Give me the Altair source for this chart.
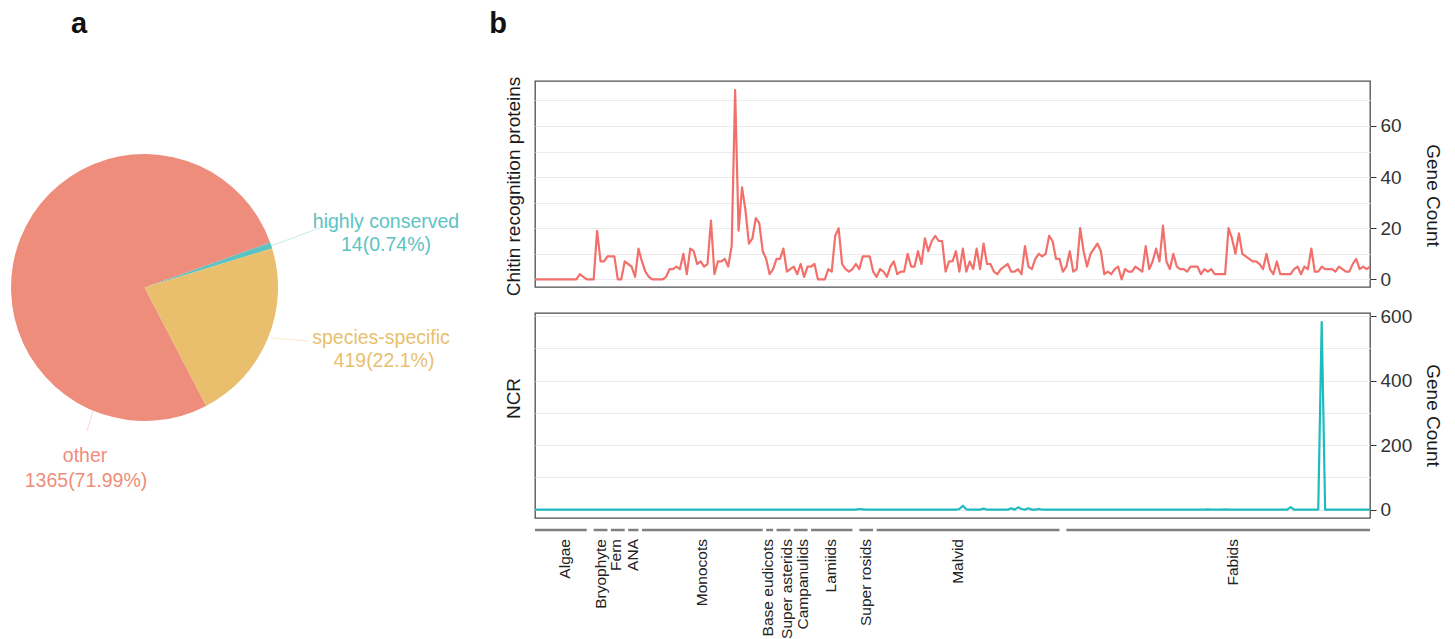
import math
import altair as alt
import pandas as pd

FONT = "Liberation Sans"

# ---------------- panel a : pie ----------------
PIE_NAMES = ["highly conserved", "species-specific", "other"]
PIE_COUNTS = [14, 419, 1365]
PIE_PCT_TEXT = ["0.74%", "22.1%", "71.99%"]
PIE_SHARE = [0.74, 22.1, 77.16]          # visible slice shares (%)
PIE_COLORS = ["#5CC3C3", "#E9BF6E", "#EE8D7C"]

# ---------------- panel b : gene counts per species ----------------
CHITIN = [0, 0, 0, 0, 0, 0, 0, 0, 0, 0, 0, 0, 0,
          2, 1, 0, 0, 0, 19, 7, 7, 9, 9,
          9, 0, 0, 7, 6, 5, 1, 12, 7, 3,
          1, 0, 0, 0, 0, 1, 4, 4, 5, 4,
          10, 2, 12, 11, 6, 7, 5, 6, 23, 2,
          7, 7, 8, 5, 13, 74, 19, 36, 27, 14,
          16, 24, 22, 11, 8, 2, 4, 8, 8, 12,
          3, 4, 5, 2, 6, 1, 5, 5, 6, 0,
          0, 0, 4, 3, 17, 20, 6, 4, 3, 4,
          6, 4, 9, 9, 9, 3, 1, 4, 3, 1,
          5, 7, 2, 3, 3, 10, 5, 5, 11, 6,
          16, 11, 15, 17, 15, 15, 3, 7, 7, 11,
          3, 12, 3, 7, 4, 12, 4, 14, 6, 6,
          3, 2, 4, 5, 6, 3, 3, 4, 2, 13,
          5, 4, 8, 10, 9, 10, 17, 15, 8, 8,
          3, 5, 11, 3, 4, 20, 11, 5, 10, 12,
          14, 11, 2, 3, 2, 4, 5, 0, 4, 3,
          3, 5, 4, 3, 13, 4, 7, 12, 7, 21,
          7, 4, 10, 5, 4, 4, 3, 5, 5, 5,
          2, 4, 3, 4, 2, 2, 2, 2, 20, 16,
          10, 18, 10, 9, 8, 7, 7, 6, 4, 10,
          4, 2, 7, 2, 2, 2, 2, 4, 5, 2,
          5, 4, 12, 3, 3, 5, 4, 4, 4, 3,
          5, 4, 3, 3, 6, 8, 4, 5, 4, 5]
N = len(CHITIN)

# NCR: zero everywhere except these species (index: count)
NCR_NONZERO = {95: 2, 96: 1, 124: 2, 125: 12, 126: 1, 131: 3, 139: 4, 141: 7,
               142: 2, 144: 4, 147: 2, 196: 1, 201: 1, 220: 8, 229: 582}
NCR = [NCR_NONZERO.get(i, 0) for i in range(1, N + 1)]

GROUPS = ["Algae", "Bryophyte", "Fern", "ANA", "Monocots", "Base eudicots",
          "Super asterids", "Campanulids", "Lamiids", "Super rosids", "Malvid", "Fabids"]
GROUP_START = [1, 18, 23, 28, 32, 68, 71, 76, 81, 95, 100, 155]
GROUP_END = [16, 22, 27, 31, 67, 70, 75, 80, 93, 99, 153, 243]
GROUP_LABEL_AT = [9.8, 20.1, 24.6, 29.4, 49.4, 68.5, 73.9, 78.7, 86.8, 96.9, 123.6, 203.3]

# ---------------- styling / layout constants ----------------
RED = "#F2706B"
TEAL = "#1FBBBE"
GRID = "#EBEBEB"
FRAME = "#4D4D4D"
PW = 835            # panel width
TOP_H, BOT_H = 206, 205
PIE_W, PIE_H = 271, 557

LABEL_POS = [[(377, 213), (377, 236)],
             [(372, 329), (375, 352)],
             [(76, 447), (77, 472)]]
LEADERS = [((262, 237), (324, 214)),
           ((262, 329), (300, 332)),
           ((86, 395), (78, 422))]

# ---------------- panel a ----------------
pie_df = pd.DataFrame({"name": PIE_NAMES, "share": PIE_SHARE, "k": list(range(len(PIE_NAMES)))})
a0 = math.radians(70.3)
arcs = alt.Chart(pie_df).mark_arc(outerRadius=133.5).encode(
    theta=alt.Theta("share:Q", stack=True, scale=alt.Scale(range=[a0, a0 + 2 * math.pi])),
    color=alt.Color("name:N", scale=alt.Scale(domain=PIE_NAMES, range=PIE_COLORS), legend=None),
    order=alt.Order("k:Q"),
)

lab_rows = []
for i, name in enumerate(PIE_NAMES):
    lines = [name, f"{PIE_COUNTS[i]}({PIE_PCT_TEXT[i]})"]
    for j, t in enumerate(lines):
        lab_rows.append({"t": t, "px": LABEL_POS[i][j][0], "py": LABEL_POS[i][j][1], "c": PIE_COLORS[i]})
lab_df = pd.DataFrame(lab_rows)
pie_labels = alt.Chart(lab_df).mark_text(font=FONT, fontSize=19.5, align="center", baseline="middle").encode(
    x=alt.X("px:Q", scale=None, axis=None),
    y=alt.Y("py:Q", scale=None, axis=None),
    text="t:N",
    color=alt.Color("c:N", scale=None),
)

lead_df = pd.DataFrame({
    "x1": [p[0][0] for p in LEADERS], "y1": [p[0][1] for p in LEADERS],
    "x2": [p[1][0] for p in LEADERS], "y2": [p[1][1] for p in LEADERS],
    "c": PIE_COLORS,
})
leaders = alt.Chart(lead_df).mark_rule(strokeWidth=1, opacity=0.35).encode(
    x=alt.X("x1:Q", scale=None, axis=None), y=alt.Y("y1:Q", scale=None, axis=None),
    x2="x2:Q", y2="y2:Q",
    color=alt.Color("c:N", scale=None),
)

letter_a = alt.Chart(pd.DataFrame({"t": ["a"]})).mark_text(
    font=FONT, fontSize=29, fontWeight="bold", align="center", baseline="alphabetic", color="#111111"
).encode(text="t:N", x=alt.value(70), y=alt.value(24))

pie_panel = alt.layer(arcs, leaders, pie_labels, letter_a).properties(
    width=PIE_W, height=PIE_H, view=alt.ViewBackground(stroke="transparent")
)

# ---------------- panel b ----------------
letter_b = alt.Chart(pd.DataFrame({"t": ["b"]})).mark_text(
    font=FONT, fontSize=29, fontWeight="bold", align="center", baseline="alphabetic", color="#111111"
).encode(text="t:N", x=alt.value(-37), y=alt.value(24)).properties(
    width=PW, height=46, view=alt.ViewBackground(stroke="transparent")
)

xs = alt.Scale(domain=[1, N], nice=False, zero=False)


def right_axis(values, title_y):
    return alt.Axis(orient="right", values=values, grid=False, domain=False, ticks=True,
                    tickSize=6, tickColor="#333333", tickWidth=1,
                    labelFont=FONT, labelFontSize=19, labelColor="#333333", labelPadding=4,
                    title="Gene Count", titleFont=FONT, titleFontSize=19, titleFontWeight="normal",
                    titleColor="#1a1a1a", titleAngle=90, titleAlign="center", titleBaseline="middle",
                    titleX=62, titleY=title_y)


def left_axis(values, title, title_y):
    return alt.Axis(orient="left", values=values, grid=True, gridColor=GRID, gridWidth=1.2,
                    labels=False, ticks=False, domain=False,
                    title=title, titleFont=FONT, titleFontSize=19, titleFontWeight="normal",
                    titleColor="#1a1a1a", titleAngle=270, titleAlign="center", titleBaseline="middle",
                    titleX=-22, titleY=title_y)


top_df = pd.DataFrame({"i": list(range(1, N + 1)), "v": CHITIN})
ys_top = alt.Scale(domain=[-3.0, 77.6], nice=False, zero=False)
top_grid = alt.Chart(top_df).mark_line(opacity=0).encode(
    x=alt.X("i:Q", scale=xs, axis=None),
    y=alt.Y("v:Q", scale=ys_top, axis=left_axis(list(range(0, 71, 10)), "Chitin recognition proteins", 105)),
)
top_line = alt.Chart(top_df).mark_line(color=RED, strokeWidth=2.2, strokeJoin="round").encode(
    x=alt.X("i:Q", scale=xs, axis=None),
    y=alt.Y("v:Q", scale=ys_top, axis=right_axis([0, 20, 40, 60], 114)),
)
top_panel = alt.layer(top_grid, top_line).resolve_axis(y="independent").properties(
    width=PW, height=TOP_H, view=alt.ViewBackground(stroke=FRAME, strokeWidth=1.3)
)

bot_df = pd.DataFrame({"i": list(range(1, N + 1)), "v": NCR})
ys_bot = alt.Scale(domain=[-26, 610], nice=False, zero=False)
bot_grid = alt.Chart(bot_df).mark_line(opacity=0).encode(
    x=alt.X("i:Q", scale=xs, axis=None),
    y=alt.Y("v:Q", scale=ys_bot, axis=left_axis(list(range(0, 601, 100)), "NCR", 85)),
)
bot_line = alt.Chart(bot_df).mark_line(color=TEAL, strokeWidth=2.2, strokeJoin="round").encode(
    x=alt.X("i:Q", scale=xs, axis=None),
    y=alt.Y("v:Q", scale=ys_bot, axis=right_axis([0, 200, 400, 600], 102)),
)

grp_df = pd.DataFrame({"g": GROUPS, "s": GROUP_START, "e": GROUP_END, "at": GROUP_LABEL_AT})
grp_rules = alt.Chart(grp_df).mark_rule(color="#808080", strokeWidth=2.5).encode(
    x=alt.X("s:Q", scale=xs, axis=None), x2="e:Q", y=alt.value(217)
)
grp_text = alt.Chart(grp_df).mark_text(
    font=FONT, fontSize=15.5, angle=270, align="right", baseline="middle", color="#222222"
).encode(x=alt.X("at:Q", scale=xs, axis=None), y=alt.value(226), text="g:N")

bot_panel = alt.layer(bot_grid, bot_line, grp_rules, grp_text).resolve_axis(y="independent").properties(
    width=PW, height=BOT_H, view=alt.ViewBackground(stroke=FRAME, strokeWidth=1.3)
)

right_col = alt.vconcat(letter_b, top_panel, bot_panel, spacing=26, bounds="flush")

chart = alt.hconcat(pie_panel, right_col, spacing=255, bounds="flush").properties(
    padding=0
).configure_view(stroke=FRAME, strokeWidth=1.3).configure(font=FONT)

chart.save("out.html", embed_options={"renderer": "svg", "actions": False})
